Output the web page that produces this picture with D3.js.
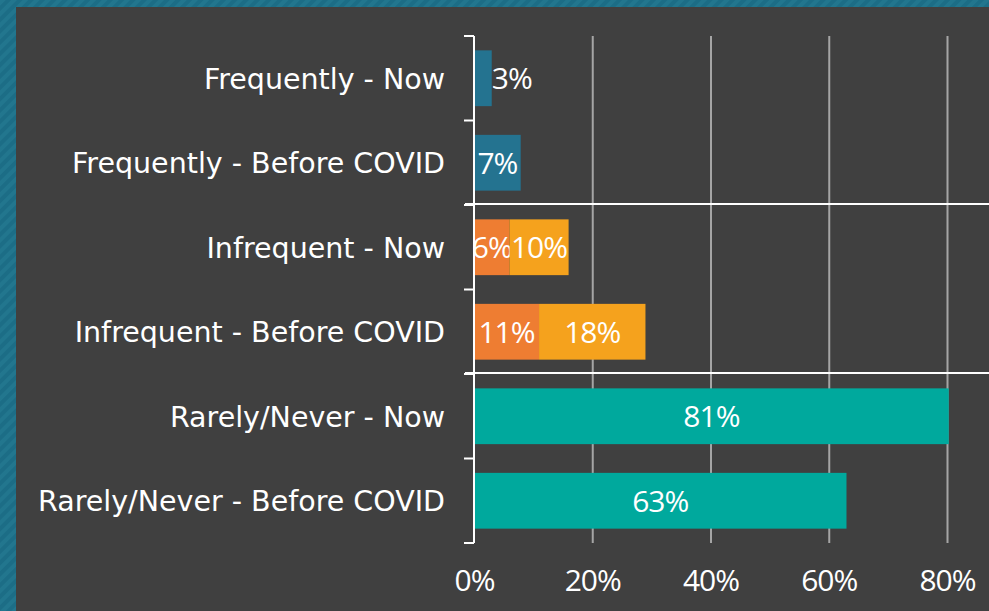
<!DOCTYPE html>
<html>
<head>
<meta charset="utf-8">
<script src="https://cdn.jsdelivr.net/npm/d3@7"></script>
<style>
    html, body { margin: 0; padding: 0; background: #404040; }
    svg { display: block; }
</style>
</head>
<body>
<script>
const width = 989,
    height = 611;

// categories, top to bottom
const categories = [
    'Frequently - Now',
    'Frequently - Before COVID',
    'Infrequent - Now',
    'Infrequent - Before COVID',
    'Rarely/Never - Now',
    'Rarely/Never - Before COVID'
];

// stacked segments, one value per category (percent)
const frequentVals = [3, 7.9, 0, 0, 0, 0];
const infrequentAVals = [0, 0, 6, 11, 0, 0];
const infrequentBVals = [0, 0, 10, 18, 0, 0];
const rarelyVals = [0, 0, 0, 0, 80.3, 63];

// data labels as printed on the bars
const frequentLabels = ['3%', '7%', '', '', '', ''];
const infrequentALabels = ['', '', '6%', '11%', '', ''];
const infrequentBLabels = ['', '', '10%', '18%', '', ''];
const rarelyLabels = ['', '', '', '', '81%', '63%'];

const xTicks = [0, 20, 40, 60, 80];

const series = [
    {key: 'frequent', values: frequentVals, labels: frequentLabels, color: '#247390'},
    {key: 'infrequentA', values: infrequentAVals, labels: infrequentALabels, color: '#ee7d32'},
    {key: 'infrequentB', values: infrequentBVals, labels: infrequentBLabels, color: '#f5a21d'},
    {key: 'rarely', values: rarelyVals, labels: rarelyLabels, color: '#00a99d'}
];

const border_left = 16,
    border_top = 7;

const plot = {left: 474, right: 947, top: 36, bottom: 543};

const svg = d3.select('body')
    .append('svg')
    .attr('width', width)
    .attr('height', height);

// hatched teal frame
const pattern = svg.append('defs').append('pattern')
    .attr('id', 'hatch')
    .attr('patternUnits', 'userSpaceOnUse')
    .attr('width', 8)
    .attr('height', 8)
    .attr('patternTransform', 'rotate(45)');
pattern.append('rect')
    .attr('width', 8).attr('height', 8)
    .attr('fill', '#1c6d86');
pattern.append('rect')
    .attr('width', 4).attr('height', 8)
    .attr('fill', '#22768e');

svg.append('rect')
    .attr('width', width).attr('height', height)
    .attr('fill', 'url(#hatch)');
svg.append('rect')
    .attr('x', border_left).attr('y', border_top)
    .attr('width', width - border_left).attr('height', height - border_top)
    .attr('fill', '#404040');

const x = d3.scaleLinear()
    .domain([0, 80])
    .range([plot.left, plot.right]);

const y = d3.scaleBand()
    .domain(categories)
    .range([plot.top, plot.bottom])
    .padding(0);

const barH = y.bandwidth() * 0.66;

// vertical gridlines + x tick labels
const xAxis = svg.append('g')
    .attr('transform', 'translate(0,' + plot.bottom + ')')
    .call(d3.axisBottom(x)
        .tickValues(xTicks)
        .tickSize(-(plot.bottom - plot.top))
        .tickPadding(27)
        .tickFormat(d => d + '%'));
xAxis.select('.domain').remove();
xAxis.selectAll('line')
    .attr('stroke', '#a5a5a5')
    .attr('stroke-width', 2)
    .attr('opacity', d => d === 0 ? 0 : 1);
xAxis.selectAll('text')
    .attr('fill', '#fff')
    .attr('dy', '0.71em')
    .style('font-family', '"Open Sans", sans-serif')
    .style('font-size', '30px')
    .style('letter-spacing', '-1px');

// stacked bars
let offsets = categories.map(() => 0);
series.forEach(s => {
    const segs = categories.map((c, i) => ({
        cat: c,
        x0: offsets[i],
        x1: offsets[i] + s.values[i],
        label: s.labels[i]
    }));
    offsets = segs.map(d => d.x1);

    const g = svg.append('g').attr('class', s.key);

    g.selectAll('rect')
        .data(segs.filter(d => d.x1 > d.x0))
        .enter().append('rect')
        .attr('x', d => x(d.x0))
        .attr('y', d => y(d.cat) + (y.bandwidth() - barH) / 2)
        .attr('width', d => x(d.x1) - x(d.x0))
        .attr('height', barH)
        .attr('fill', s.color);

    g.selectAll('text')
        .data(segs.filter(d => d.label !== ''))
        .enter().append('text')
        .attr('x', function (d) {
            // too narrow: put the label just past the bar end
            if (x(d.x1) - x(d.x0) < 30) return x(d.x1);
            return (x(d.x0) + x(d.x1)) / 2;
        })
        .attr('y', d => y(d.cat) + y.bandwidth() / 2)
        .attr('dy', '0.36em')
        .attr('text-anchor', d => (x(d.x1) - x(d.x0) < 30) ? 'start' : 'middle')
        .attr('fill', '#fff')
        .style('font-family', '"Open Sans", sans-serif')
        .style('font-size', '30px')
        .style('letter-spacing', '-1px')
        .text(d => d.label);
});

// category axis with ticks on the band boundaries
const boundaries = categories.map(c => y(c)).concat([plot.bottom]);

svg.append('line')
    .attr('x1', plot.left).attr('x2', plot.left)
    .attr('y1', plot.top).attr('y2', plot.bottom)
    .attr('stroke', '#fff')
    .attr('stroke-width', 2);

svg.append('g')
    .selectAll('line')
    .data(boundaries)
    .enter().append('line')
    .attr('x1', plot.left - 10).attr('x2', plot.left)
    .attr('y1', d => d).attr('y2', d => d)
    .attr('stroke', '#fff')
    .attr('stroke-width', 2);

// group separators
svg.append('g')
    .selectAll('line')
    .data([boundaries[2], boundaries[4]])
    .enter().append('line')
    .attr('x1', plot.left - 9).attr('x2', width)
    .attr('y1', d => d - 1).attr('y2', d => d - 1)
    .attr('stroke', '#fff')
    .attr('stroke-width', 2);

svg.append('g')
    .selectAll('text')
    .data(categories)
    .enter().append('text')
    .attr('x', plot.left - 29)
    .attr('y', d => y(d) + y.bandwidth() / 2)
    .attr('dy', '0.36em')
    .attr('text-anchor', 'end')
    .attr('fill', '#fff')
    .style('font-family', '"DejaVu Sans", sans-serif')
    .style('font-size', '28.5px')
    .text(d => d);
</script>
</body>
</html>
